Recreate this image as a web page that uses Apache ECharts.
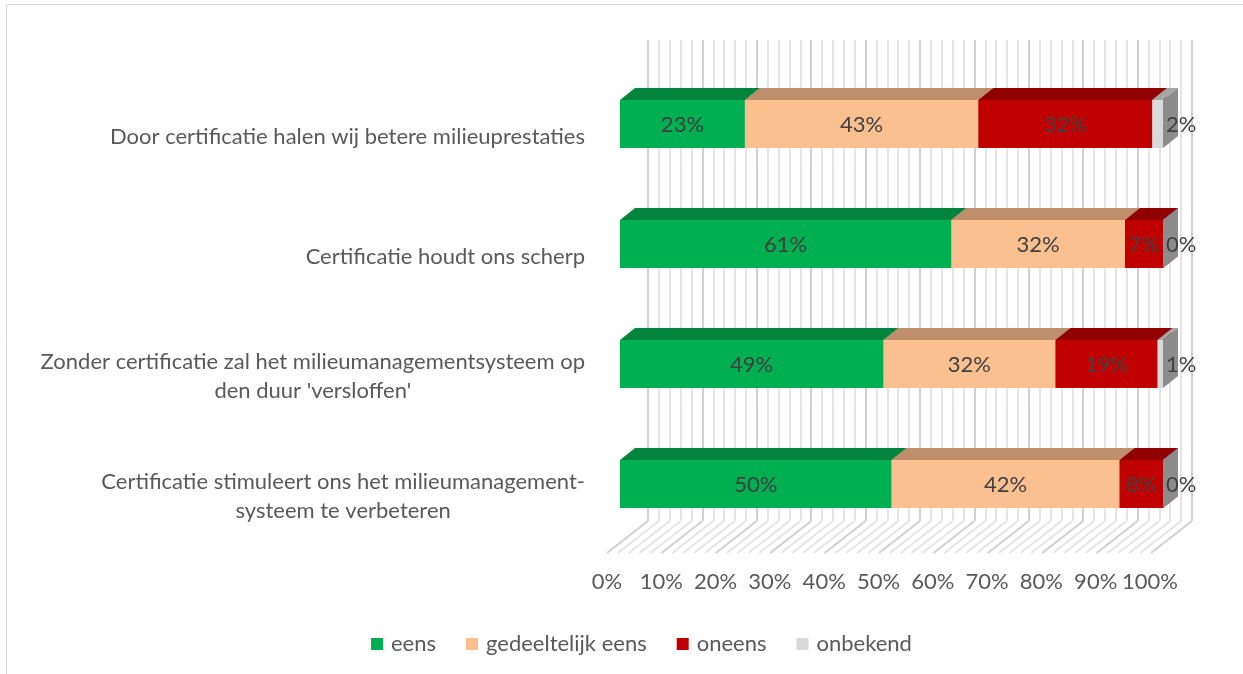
<!DOCTYPE html>
<html>
<head>
<meta charset="utf-8">
<script src="https://cdn.jsdelivr.net/npm/echarts@6/dist/echarts.min.js"></script>
<style>
html, body { margin: 0; padding: 0; background: #fff; }
#chart { width: 1243px; height: 674px; }
</style>
</head>
<body>
<div id="chart"></div>
<script>
// categories, top to bottom
var categories = [
    "Door certificatie halen wij betere milieuprestaties",
    "Certificatie houdt ons scherp",
    "Zonder certificatie zal het milieumanagementsysteem op\nden duur 'versloffen'",
    "Certificatie stimuleert ons het milieumanagement-\nsysteem te verbeteren"
];
var seriesNames = ['eens', 'gedeeltelijk eens', 'oneens', 'onbekend'];
var eens        = [23, 61, 48.5, 50];
var gedeeltelijk = [43, 32, 31.7, 42];
var oneens      = [32, 7, 18.8, 8];
var onbekend    = [2, 0, 1, 0];
var xTicks = [0, 10, 20, 30, 40, 50, 60, 70, 80, 90, 100];

var frontColors = ['#00B050', '#FAC090', '#C00000', '#D9D9D9'];
var topColors   = ['#00843C', '#BF8F6D', '#900000', '#A6A6A6'];
var sideColors  = ['#00793A', '#B08060', '#800000', '#8C8C8C'];

var FONT = 'Lato';
var FS = 22;
var DX = 15, DY = 12;

var valueSets = [eens, gedeeltelijk, oneens, onbekend];
var starts = categories.map(function () { return 0; });
var seriesData = valueSets.map(function (vals) {
    return vals.map(function (v, i) {
        var d = [v, i, starts[i]];
        starts[i] += v;
        return d;
    });
});

function barItem(k) {
    return function (params, api) {
        var val = api.value(0), cat = api.value(1), start = api.value(2);
        var a = api.coord([start, cat]);
        var b = api.coord([start + val, cat]);
        var h = api.size([0, 1])[1] * 0.4;
        var x0 = a[0], x1 = b[0], y0 = a[1] - h / 2, y1 = a[1] + h / 2;
        var kids = [
            {type: 'rect', shape: {x: x0, y: y0, width: x1 - x0, height: h},
             style: {fill: frontColors[k]}},
            {type: 'polygon', shape: {points: [[x0, y0], [x0 + DX, y0 - DY], [x1 + DX, y0 - DY], [x1, y0]]},
             style: {fill: topColors[k]}},
            {type: 'polygon', shape: {points: [[x1, y0], [x1 + DX, y0 - DY], [x1 + DX, y1 - DY], [x1, y1]]},
             style: {fill: sideColors[k]}}
        ];
        var last = k === valueSets.length - 1;
        kids.push({
            type: 'text', z2: 10,
            style: {
                text: Math.round(val) + '%',
                x: last ? x1 + 3 : (x0 + x1) / 2,
                y: a[1] + 1,
                align: last ? 'left' : 'center',
                verticalAlign: 'middle',
                fill: '#404040',
                font: FS + 'px ' + FONT
            }
        });
        return {type: 'group', children: kids};
    };
}

// floor lines of the 3D wall
function floorItem(params, api) {
    var p = api.coord([api.value(0), 0]);
    var major = api.value(0) % 10 === 0;
    return {
        type: 'line',
        shape: {x1: p[0], y1: p[1], x2: p[0] - 41, y2: p[1] + 32},
        style: {stroke: major ? '#d0d0d0' : '#e4e4e4', lineWidth: 2}
    };
}
var floorTicks = [];
for (var t = 0; t <= 100; t += 2) floorTicks.push([t, 0]);

var series = seriesNames.map(function (name, k) {
    return {
        name: name,
        type: 'custom',
        xAxisIndex: 0, yAxisIndex: 0,
        renderItem: barItem(k),
        itemStyle: {color: frontColors[k]},
        encode: {x: [0, 2], y: 1},
        data: seriesData[k],
        z: 5
    };
});
series.push({
    type: 'custom',
    xAxisIndex: 1, yAxisIndex: 1,
    renderItem: floorItem,
    data: floorTicks,
    silent: true,
    z: 1
});

var chart = echarts.init(document.getElementById('chart'));
chart.setOption({
    backgroundColor: '#ffffff',
    animation: false,
    textStyle: {fontFamily: FONT},
    graphic: [{
        type: 'rect', silent: true,
        shape: {x: 6.5, y: 4.5, width: 1400, height: 900},
        style: {fill: null, stroke: '#d9d9d9', lineWidth: 1}
    }],
    legend: {
        data: seriesNames,
        left: 366,
        top: 628,
        icon: 'rect',
        itemWidth: 12,
        itemHeight: 12,
        itemGap: 30,
        textStyle: {color: '#595959', fontSize: FS, fontFamily: FONT, padding: [0, 0, 0, 3]}
    },
    grid: [
        {left: 620, right: 80, top: 64, bottom: 130, outerBoundsMode: 'none'},
        {left: 648, right: 51, top: 40, bottom: 153, outerBoundsMode: 'none'},
        {left: 607, right: 93, top: 100, bottom: 121, outerBoundsMode: 'none'}
    ],
    xAxis: [
        {gridIndex: 0, type: 'value', min: 0, max: 100, show: false},
        {gridIndex: 1, type: 'value', min: 0, max: 100, interval: 2,
         axisLine: {show: false}, axisTick: {show: false}, axisLabel: {show: false},
         splitLine: {show: true, lineStyle: {width: 2,
            color: ['#d0d0d0', '#e4e4e4', '#e4e4e4', '#e4e4e4', '#e4e4e4']}}},
        {gridIndex: 2, type: 'value', min: 0, max: 100, interval: 10,
         axisLine: {show: false}, axisTick: {show: false}, splitLine: {show: false},
         axisLabel: {margin: 18, color: '#595959', fontSize: FS, fontFamily: FONT,
            formatter: function (v) { return xTicks.indexOf(v) >= 0 ? v + '%' : ''; }}}
    ],
    yAxis: [
        {gridIndex: 0, type: 'category', inverse: true, data: categories,
         axisLine: {show: false}, axisTick: {show: false}, splitLine: {show: false},
         axisLabel: {
            margin: 35,
            padding: [25, 0, 0, 0],
            formatter: function (v) {
                return v.split('\n').map(function (s) { return '{c|' + s + '}'; }).join('\n');
            },
            rich: {c: {align: 'center', color: '#595959', fontSize: FS, fontFamily: FONT, lineHeight: 29}}
         }},
        {gridIndex: 1, type: 'value', min: 0, max: 1, show: false},
        {gridIndex: 2, type: 'value', min: 0, max: 1, show: false}
    ],
    series: series
});
</script>
</body>
</html>
